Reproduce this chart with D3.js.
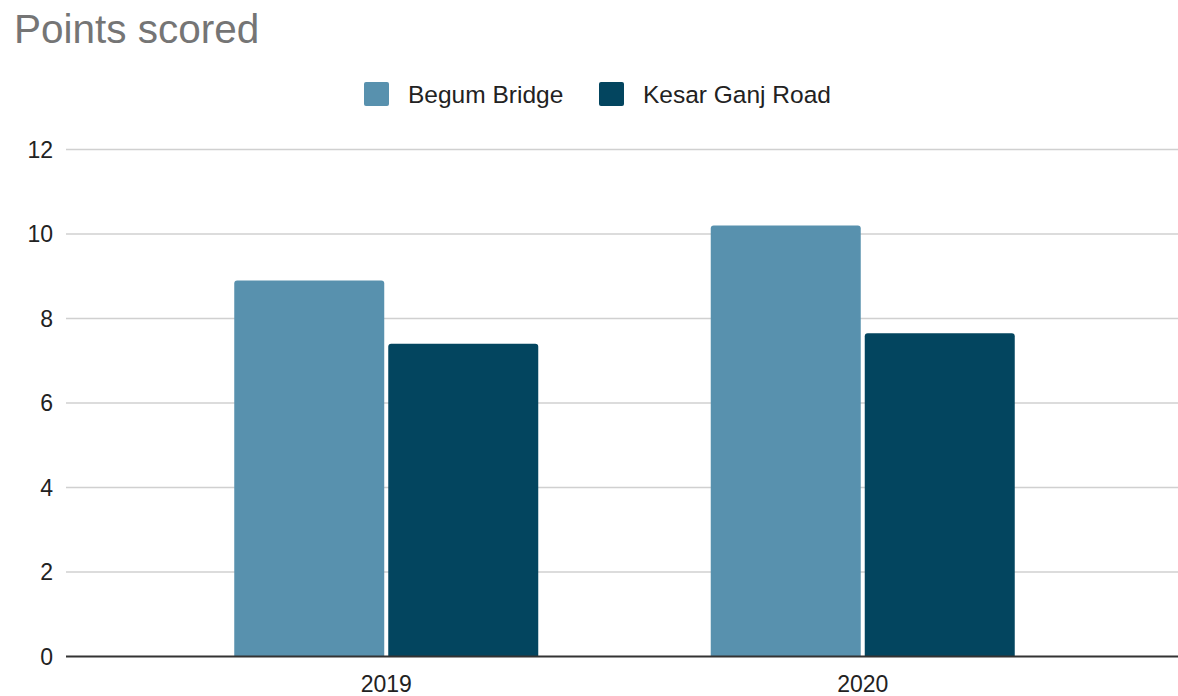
<!DOCTYPE html>
<html lang="en">
<head>
  <meta charset="UTF-8">
  <title>Points scored</title>
  <style>
    body {
      margin: 0;
      background-color: #fff;
      font-family: "Liberation Sans", Arial, sans-serif;
    }
    svg {
      display: block;
    }
  </style>
  <script src="https://d3js.org/d3.v7.min.js"></script>
</head>
<body>
  <svg width="1178" height="696"></svg>

  <script>
    const years = ["2019", "2020"];
    const seriesNames = ["Begum Bridge", "Kesar Ganj Road"];
    const begumBridge = [8.9, 10.2];
    const kesarGanjRoad = [7.4, 7.65];
    const yTicks = [0, 2, 4, 6, 8, 10, 12];
    const colors = ["#5891ae", "#03455f"];

    const svg = d3.select("svg");
    const width = +svg.attr("width");

    const rows = years.map((y, i) => ({ year: y, values: [begumBridge[i], kesarGanjRoad[i]] }));

    const x0 = d3.scaleBand().domain(years).range([148, 1101])
      .paddingInner(0.362).paddingOuter(0.181);
    const x1 = d3.scaleBand().domain(seriesNames).range([0, x0.bandwidth()])
      .paddingInner(0.026);
    const y = d3.scaleLinear().domain([0, 12]).range([656.5, 149.5]);

    // title
    svg.append("text")
      .attr("x", 14).attr("y", 43)
      .attr("font-size", 40.5)
      .attr("fill", "#757575")
      .text("Points scored");

    // gridlines
    svg.append("g").selectAll("line")
      .data(yTicks.filter(d => d !== 0))
      .enter().append("line")
      .attr("x1", 66).attr("x2", width)
      .attr("y1", d => y(d)).attr("y2", d => y(d))
      .attr("stroke", "#d0d0d0")
      .attr("stroke-width", 1.5);

    // y labels
    svg.append("g").selectAll("text")
      .data(yTicks)
      .enter().append("text")
      .attr("x", 53)
      .attr("y", d => y(d))
      .attr("dy", "0.36em")
      .attr("text-anchor", "end")
      .attr("font-size", 23)
      .attr("fill", "#222")
      .text(d => d);

    // bars with rounded top corners
    const r = 3;
    function barPath(xp, w, top, bottom) {
      return `M${xp},${bottom}V${top + r}Q${xp},${top} ${xp + r},${top}H${xp + w - r}Q${xp + w},${top} ${xp + w},${top + r}V${bottom}Z`;
    }

    const groups = svg.append("g").selectAll("g")
      .data(rows)
      .enter().append("g")
      .attr("transform", d => `translate(${x0(d.year)},0)`);

    groups.selectAll("path")
      .data(d => d.values.map((v, i) => ({ name: seriesNames[i], value: v, i })))
      .enter().append("path")
      .attr("d", d => barPath(x1(d.name), x1.bandwidth(), y(d.value), y(0)))
      .attr("fill", d => colors[d.i]);

    // baseline
    svg.append("line")
      .attr("x1", 66).attr("x2", width)
      .attr("y1", y(0)).attr("y2", y(0))
      .attr("stroke", "#333")
      .attr("stroke-width", 2);

    // x labels
    svg.append("g").selectAll("text")
      .data(years)
      .enter().append("text")
      .attr("x", d => x0(d) + x0.bandwidth() / 2)
      .attr("y", 692)
      .attr("text-anchor", "middle")
      .attr("font-size", 23)
      .attr("fill", "#222")
      .text(d => d);

    // legend
    const legendX = [364, 599];
    const legend = svg.append("g").selectAll("g")
      .data(seriesNames)
      .enter().append("g")
      .attr("transform", (d, i) => `translate(${legendX[i]},82)`);

    legend.append("rect")
      .attr("width", 25).attr("height", 24)
      .attr("rx", 2)
      .attr("fill", (d, i) => colors[i]);

    legend.append("text")
      .attr("x", 44).attr("y", 12)
      .attr("dy", "0.36em")
      .attr("font-size", 24.5)
      .attr("fill", "#222")
      .text(d => d);
  </script>
</body>
</html>
